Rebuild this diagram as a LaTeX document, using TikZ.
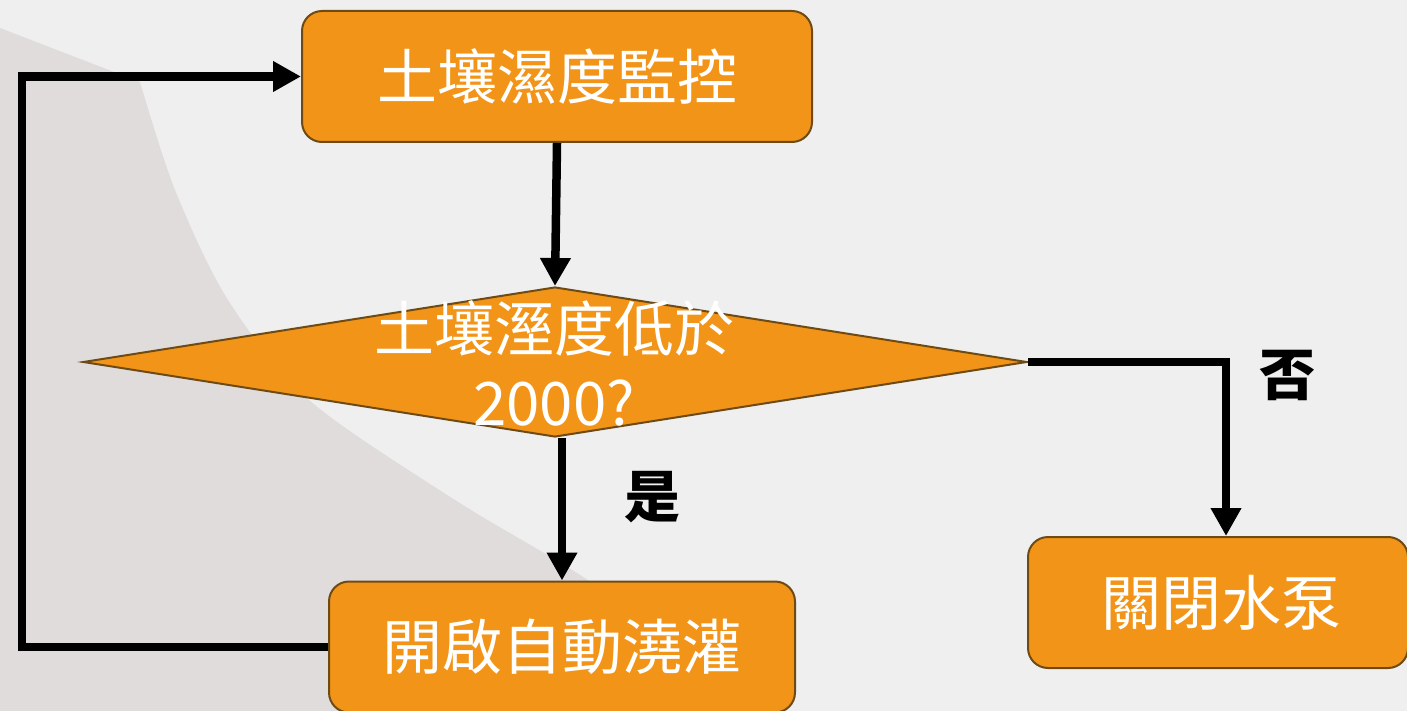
\documentclass[tikz,border=0pt]{standalone}
\usepackage{fontspec}
\setmainfont{Noto Sans CJK TC}
\usetikzlibrary{arrows.meta,shapes.geometric}
\definecolor{bgl}{HTML}{EFEFEF}
\definecolor{bgd}{HTML}{E1DCDC}
\definecolor{boxfill}{HTML}{F29417}
\definecolor{boxline}{HTML}{6E4B14}
\tikzset{
  procbox/.style={draw=boxline, line width=2pt, fill=boxfill, rounded corners=20pt, minimum height=131pt, inner sep=0pt},
  decbox/.style={draw=boxline, line width=2pt, fill=boxfill, shape=diamond, inner sep=0pt, minimum width=944pt, minimum height=150pt},
  boxtext/.style={text=white, font=\fontsize{60}{74}\selectfont, align=center, inner sep=0pt},
  lbl/.style={text=black, font=\fontsize{56}{60}\selectfont\bfseries, inner sep=0pt},
  flow/.style={line width=8.5pt, draw=black, -{Triangle[length=28pt,width=29pt]}}
}
\begin{document}
\begin{tikzpicture}[x=1pt,y=-1pt]
\useasboundingbox (0,0) rectangle (1407,711);
\fill[bgl] (0,0) rectangle (1407,711);
\fill[bgd] (0,28) -- plot[smooth, tension=0.5] coordinates {(140,82) (175,190) (228,300) (309,400) (455,500) (591,582) (780,713)} -- (0,713) -- cycle;

\node[procbox, minimum width=510pt] (mon) at (557,76.5) {};
\node[boxtext] (montxt) at (mon) {土壤濕度監控};
\node[decbox] (dec) at (555,362) {};
\node[boxtext] (dectxt) at (554,363) {土壤溼度低於\\2000?};
\node[procbox, minimum width=466pt] (irr) at (562,647) {};
\node[boxtext] (irrtxt) at (irr) {開啟自動澆灌};
\node[procbox, minimum width=380pt] (off) at (1218,602.5) {};
\node[boxtext] (offtxt) at (1221,602.5) {關閉水泵};

\coordinate (loopb) at (22,647);
\coordinate (loopt) at (22,76.5);
\coordinate (nocorner) at (1226,362);

\draw[flow] (mon.south) -- (dec.north);
\draw[flow] (dec.south -| irr.north) -- (irr.north);
\draw[flow] (dec.east) -- (nocorner) -- (nocorner |- off.north);
\draw[flow] (irr.west) -- (loopb) -- (loopt) -- (mon.west);

\node[lbl] (yes) at (652,497) {是};
\node[lbl] (no) at (1287,375) {否};
\end{tikzpicture}
\end{document}
